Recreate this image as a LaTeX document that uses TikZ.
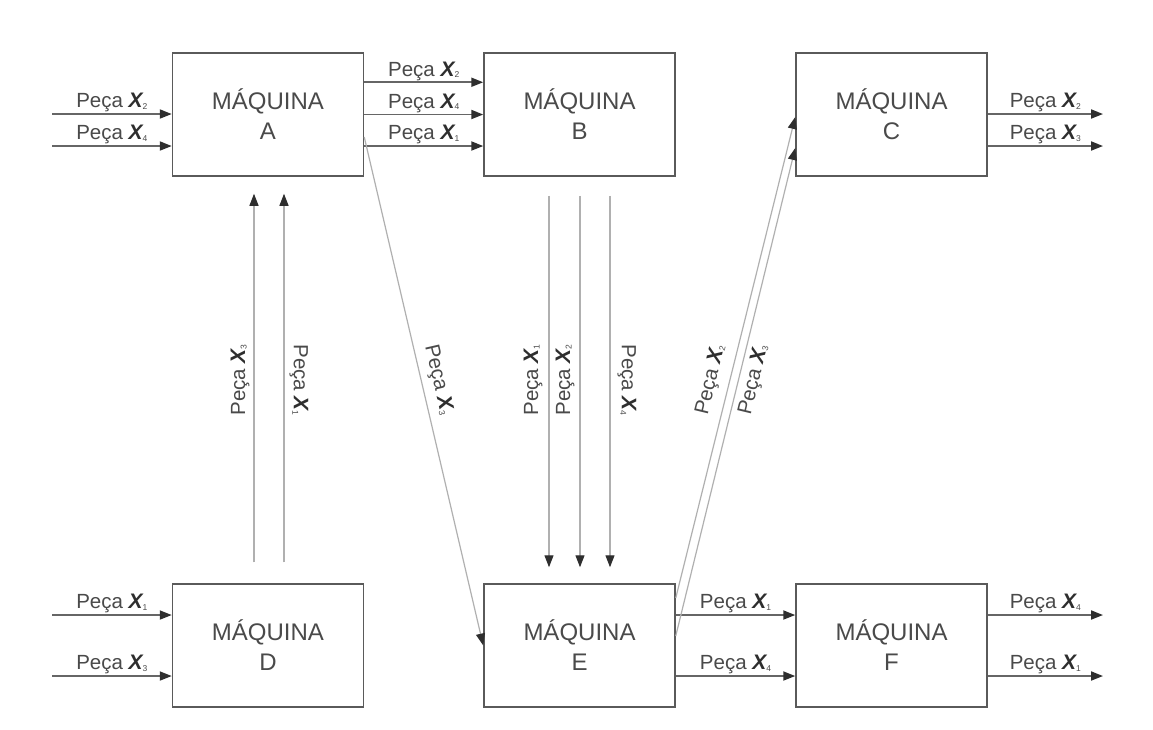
\documentclass[tikz,border=0pt]{standalone}
\usepackage{fontspec}
\setmainfont{Liberation Sans}
\usetikzlibrary{arrows.meta,calc}
\definecolor{boxc}{HTML}{5A5A5A}
\definecolor{txtc}{HTML}{4A4A4A}
\definecolor{xc}{HTML}{2E2E2E}
\definecolor{thinc}{HTML}{B0B0B0}
\definecolor{arrc}{HTML}{666666}
\newcommand{\pc}[1]{{\fontsize{20.5}{20.5}\selectfont\color{txtc}Peça {\fontsize{21}{21}\selectfont\bfseries\itshape\color{xc}X}\raisebox{-1.5pt}{\fontsize{8.5}{8.5}\selectfont\color{txtc}#1}}}
\begin{document}
\begin{tikzpicture}[x=1pt,y=-1pt,
  machine/.style={draw=boxc, line width=1.5pt, fill=white, minimum width=191pt, minimum height=123pt, inner sep=0pt, align=center, font=\fontsize{24}{30}\selectfont, text=txtc},
  harrow/.style={draw=arrc, line width=1.8pt, -{Triangle[length=12pt,width=9pt,color=xc]}},
  thinarrow/.style={draw=thinc, line width=1.2pt, -{Triangle[length=12pt,width=9pt,color=xc]}},
  lbl/.style={inner sep=1pt}
]
\fill[white] (0,0) rectangle (1153,729);
% machines
\node[machine] (A) at (268,114.5) {MÁQUINA\\A};
\node[machine] (B) at (579.5,114.5) {MÁQUINA\\B};
\node[machine] (C) at (891.5,114.5) {MÁQUINA\\C};
\node[machine] (D) at (268,645.5) {MÁQUINA\\D};
\node[machine] (E) at (579.5,645.5) {MÁQUINA\\E};
\node[machine] (F) at (891.5,645.5) {MÁQUINA\\F};
% free ends
\coordinate (a1) at (52,114);
\coordinate (a2) at (52,146);
\coordinate (c1) at (1103,114);
\coordinate (c2) at (1103,146);
\coordinate (d1) at (52,615);
\coordinate (d2) at (52,676);
\coordinate (f1) at (1103,615);
\coordinate (f2) at (1103,676);
% inputs to A
\draw[harrow] (a1) -- (a1 -| A.west) node[midway,above,lbl]{\pc{2}};
\draw[harrow] (a2) -- (a2 -| A.west) node[midway,above,lbl]{\pc{4}};
% A to B
\draw[harrow] ([yshift=-30pt]A.north east) -- ([yshift=-30pt]B.north west) node[midway,above,lbl]{\pc{2}};
\draw[harrow] (A.east) -- (B.west) node[midway,above,lbl]{\pc{4}};
\draw[harrow] ([yshift=-31.5pt]A.east) -- ([yshift=-31.5pt]B.west) node[midway,above,lbl]{\pc{1}};
% C outputs
\draw[harrow] (C.east |- c1) -- (c1) node[midway,above,lbl]{\pc{2}};
\draw[harrow] (C.east |- c2) -- (c2) node[midway,above,lbl]{\pc{3}};
% inputs to D
\draw[harrow] (d1) -- (d1 -| D.west) node[midway,above,lbl]{\pc{1}};
\draw[harrow] (d2) -- (d2 -| D.west) node[midway,above,lbl]{\pc{3}};
% E to F
\draw[harrow] (E.east |- d1) -- (F.west |- d1) node[midway,above,lbl]{\pc{1}};
\draw[harrow] (E.east |- d2) -- (F.west |- d2) node[midway,above,lbl]{\pc{4}};
% F outputs
\draw[harrow] (F.east |- f1) -- (f1) node[midway,above,lbl]{\pc{4}};
\draw[harrow] (F.east |- f2) -- (f2) node[midway,above,lbl]{\pc{1}};
% D to A
\draw[thinarrow] ([xshift=-14pt,yshift=21pt]D.north) -- ([xshift=-14pt,yshift=-17pt]A.south);
\draw[thinarrow] ([xshift=16pt,yshift=21pt]D.north) -- ([xshift=16pt,yshift=-17pt]A.south);
\node[lbl,rotate=90] (l1) at (240,380) {\pc{3}};
\node[lbl,rotate=-90] (l2) at (299,380) {\pc{1}};
% B to E
\draw[thinarrow] ([xshift=-30.5pt,yshift=-19pt]B.south) -- ([xshift=-30.5pt,yshift=16pt]E.north);
\draw[thinarrow] ([xshift=0.5pt,yshift=-19pt]B.south) -- ([xshift=0.5pt,yshift=16pt]E.north);
\draw[thinarrow] ([xshift=30.5pt,yshift=-19pt]B.south) -- ([xshift=30.5pt,yshift=16pt]E.north);
\node[lbl,rotate=90] (l3) at (533,380) {\pc{1}};
\node[lbl,rotate=90] (l4) at (565,380) {\pc{2}};
\node[lbl,rotate=-90] (l5) at (627,380) {\pc{4}};
% A to E diagonal
\draw[thinarrow] ([yshift=-22.5pt]A.east) -- (E.west);
\node[lbl,rotate=-77.1] (l6) at (438,380) {\pc{3}};
% E to C
\draw[thinarrow] ([yshift=47.5pt]E.east) -- ([yshift=-2.5pt]C.west);
\draw[thinarrow] ([yshift=9.5pt]E.east) -- ([yshift=-33.5pt]C.west);
\node[lbl,rotate=76.4] (l7) at (711,380) {\pc{2}};
\node[lbl,rotate=76.4] (l8) at (754,380) {\pc{3}};
\end{tikzpicture}
\end{document}
